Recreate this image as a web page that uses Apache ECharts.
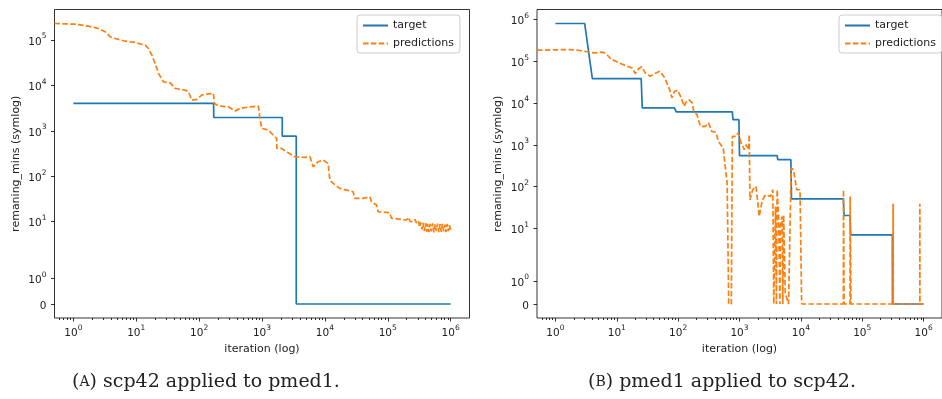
<!DOCTYPE html>
<html>
<head>
<meta charset="UTF-8">
<title>remaining mins</title>
<script src="https://cdn.jsdelivr.net/npm/echarts@6/dist/echarts.min.js"></script>
<style>body{margin:0;background:#fff;}</style>
</head>
<body>
<div id="main" style="width:942px;height:399px;"></div>
<script type="text/javascript">
// [iteration, remaining_mins]
var targetA = [[1, 4000], [170, 4000], [171, 1960], [2100, 1960], [2101, 760], [3506, 760], [3507, 0], [1000000, 0]];
var predA = [[0.5, 228600], [1.08, 220800], [1.75, 199500], [2.52, 177500], [3.22, 149600], [3.87, 116100],
  [4.64, 107100], [6.69, 93300], [9.6, 87500], [13.9, 76300], [15.7, 64500], [17.7, 46000], [20, 30200],
  [22.6, 18200], [27.1, 11900], [34.7, 11300], [41.6, 8530], [60, 7820], [67.6, 7180], [76.6, 4720],
  [91.9, 4890], [110, 6070], [124, 6380], [169, 6620], [175, 3990], [202, 3530], [292, 3360], [373, 2740],
  [447, 3100], [645, 3360], [874, 3480], [929, 1870], [989, 1127], [1259, 1033], [1511, 802], [1710, 679],
  [1720, 409], [2055, 409], [2466, 344], [3342, 267], [4816, 259], [5780, 267], [6520, 161], [7830, 208],
  [9400, 226], [11270, 191], [12000, 82], [13550, 69.7], [17300, 54], [22100, 49.6], [28100, 45.5],
  [29900, 32.6], [40500, 32.6], [51800, 35.3], [55100, 27.4], [66200, 23.2], [70200, 16.6], [107600, 15.7],
  [114500, 11.9], [198000, 10.9], [215000, 12.5], [225000, 10.2], [252000, 10], [270000, 11.2], [290000, 9.0],
  [300000, 8.4], [310000, 10.1], [320000, 7.6], [335000, 9.6], [350000, 6.8], [365000, 9.4], [380000, 6.2],
  [400000, 9.3], [415000, 6.0], [430000, 9.0], [450000, 5.9], [470000, 8.9], [490000, 6.1], [515000, 9.2],
  [540000, 5.8], [565000, 8.7], [590000, 6.2], [620000, 9.1], [650000, 5.9], [680000, 8.8], [710000, 6.0],
  [740000, 9.0], [775000, 6.1], [810000, 8.6], [845000, 5.9], [880000, 8.9], [920000, 6.2], [960000, 8.4],
  [1000000, 6.5]];

var targetB = [[1, 800000], [3, 800000], [4, 38500], [25, 38500], [26, 7640], [87, 7640], [93, 6120],
  [764, 6120], [785, 4000], [978, 4000], [1000, 548], [4100, 548], [4200, 440], [6870, 440], [7030, 51],
  [49300, 51], [50600, 20.3], [63100, 20.3], [64700, 7], [310000, 7], [311000, 0], [1000000, 0]];
var predB = [[0.5, 183700], [1.06, 188000], [1.72, 191000], [2.35, 183700], [3.6, 164500], [4.32, 159000],
  [5.89, 164500], [6.65, 153000], [8.0, 114000], [10.8, 91600], [13.9, 78800], [17.7, 69500], [20, 50800],
  [22.6, 65800], [25.6, 73500], [29, 52700], [34.8, 43700], [41.8, 50800], [50.3, 57700], [60.4, 40000],
  [72.6, 21000], [79, 13300], [87.3, 19100], [98.6, 20200], [112, 13300], [126, 8340], [132, 10100],
  [150, 12100], [169, 10100], [180, 6340], [203, 5270], [230, 2770], [276, 2770], [313, 3340], [353, 2100],
  [414, 1990], [452, 1210], [543, 840], [576, 367], [629, 121], [667, 0], [736, 0], [764, 1590], [885, 1590],
  [942, 1920], [1000, 1590], [1060, 1107], [1200, 764], [1280, 1007], [1410, 764], [1440, 1750], [1480, 48],
  [1640, 84], [1850, 101], [1970, 48], [2090, 19.2], [2360, 48], [2670, 63.7], [3210, 58], [3490, 84],
  [3620, 0], [3860, 33.3], [4000, 0], [4100, 84], [4360, 16], [4550, 0], [4640, 11.1], [4930, 19.2],
  [5080, 0], [5240, 21], [5570, 0.46], [6300, 0], [6950, 278], [7570, 253], [8570, 84], [9680, 84],
  [10300, 0], [49300, 0], [49500, 84], [50600, 0], [63100, 0], [63500, 58], [65500, 0], [317000, 0],
  [318000, 38.7], [319000, 0], [320000, 38.7], [321000, 0], [869000, 0], [870000, 38.7], [871000, 0],
  [1000000, 0]];

var xTicks = [1, 10, 100, 1000, 10000, 100000, 1000000];
var yTicksA = [0, 1, 10, 100, 1000, 10000, 100000];
var yTicksB = [0, 1, 10, 100, 1000, 10000, 100000, 1000000];

// matplotlib symlog, linthresh = 2, linscale = 1, in decades
var LINTHRESH = 2, LINADJ = 1 / (1 - 1 / 10);
function symlog(v) {
  var a = Math.abs(v), s = v < 0 ? -1 : 1;
  if (a <= LINTHRESH) return v * LINADJ / LINTHRESH;
  return s * (LINADJ + Math.log10(a / LINTHRESH));
}
function toXY(arr) {
  return arr.map(function (p) { return [Math.log10(p[0]), symlog(p[1])]; });
}

var minors = [];
for (var d = -1; d <= 6; d++) for (var k = 2; k <= 9; k++) minors.push(Math.log10(k * Math.pow(10, d)));

var xlo = -0.3, xhi = 6.3;
function yRange(a, b) {
  var hi = 0;
  a.concat(b).forEach(function (p) { hi = Math.max(hi, symlog(p[1])); });
  return [-0.05 * hi, 1.05 * hi];
}
var yrA = yRange(targetA, predA), yrB = yRange(targetB, predB);

var sup = {
  b: { fontSize: 10.5, fontFamily: 'DejaVu Sans', color: '#222', padding: [4, 0, 0, 0] },
  s: { fontSize: 7.5, fontFamily: 'DejaVu Sans', color: '#222', verticalAlign: 'top' }
};
function powLabel(e) { return '{b|10}{s|' + e + '}'; }
function yFmt(ticks) {
  return function (val) {
    for (var i = 0; i < ticks.length; i++) {
      if (Math.abs(symlog(ticks[i]) - val) < 1e-6) {
        return ticks[i] === 0 ? '{b|0}' : powLabel(Math.round(Math.log10(ticks[i])));
      }
    }
    return '';
  };
}

var tickStyle = { color: '#000', width: 0.8 };
function xMain(grid) {
  return {
    type: 'value', gridIndex: grid, min: xlo, max: xhi, position: 'bottom',
    name: 'iteration (log)', nameLocation: 'middle', nameGap: 26,
    nameTextStyle: { fontSize: 11, fontFamily: 'DejaVu Sans', color: '#222' },
    axisLine: { show: false, onZero: false }, splitLine: { show: false },
    axisTick: { show: true, inside: false, length: 3.5, lineStyle: tickStyle, customValues: xTicks.map(Math.log10) },
    axisLabel: {
      show: true, margin: 6, customValues: xTicks.map(Math.log10), rich: sup,
      formatter: function (v) { return powLabel(Math.round(v)); }
    }
  };
}
function xMinor(grid) {
  return {
    type: 'value', gridIndex: grid, min: xlo, max: xhi, position: 'bottom',
    axisLine: { show: false, onZero: false }, splitLine: { show: false }, axisLabel: { show: false },
    axisTick: { show: true, inside: false, length: 2, lineStyle: tickStyle, customValues: minors.filter(function (m) { return m > xlo && m < xhi; }) }
  };
}
function yAx(grid, yr, ticks, gap) {
  return {
    type: 'value', gridIndex: grid, min: yr[0], max: yr[1], position: 'left',
    name: 'remaning_mins (symlog)', nameLocation: 'middle', nameGap: gap,
    nameTextStyle: { fontSize: 11, fontFamily: 'DejaVu Sans', color: '#222' },
    axisLine: { show: false, onZero: false }, splitLine: { show: false },
    axisTick: { show: true, inside: false, length: 3.5, lineStyle: tickStyle, customValues: ticks.map(symlog) },
    axisLabel: { show: true, margin: 8, customValues: ticks.map(symlog), rich: sup, formatter: yFmt(ticks) }
  };
}
function line(name, data, xi, yi, color, dash) {
  return {
    type: 'line', name: name, data: toXY(data), xAxisIndex: xi, yAxisIndex: yi,
    showSymbol: false, symbol: 'none', clip: true, animation: false,
    lineStyle: { color: color, width: 1.7, type: dash ? [5.5, 2.4] : 'solid' },
    itemStyle: { color: color }
  };
}
function legend(left) {
  return {
    left: left, top: 15, orient: 'vertical', data: ['target', 'predictions'],
    itemWidth: 25, itemHeight: 10, itemGap: 7, padding: [5, 6, 4, 5],
    itemStyle: { opacity: 0, borderWidth: 0 },
    borderColor: '#cccccc', borderWidth: 1, borderRadius: 3, backgroundColor: 'rgba(255,255,255,0.8)',
    textStyle: { fontSize: 11, fontFamily: 'DejaVu Sans', color: '#222' }
  };
}

var myChart = echarts.init(document.getElementById('main'));
var option = {
  backgroundColor: '#fff',
  animation: false,
  grid: [
    { left: 54.5, top: 9.5, width: 415, height: 308.5, show: true, borderColor: '#000', borderWidth: 0.8, backgroundColor: 'transparent' },
    { left: 537, top: 9.5, width: 413, height: 308.5, show: true, borderColor: '#000', borderWidth: 0.8, backgroundColor: 'transparent' }
  ],
  xAxis: [xMain(0), xMinor(0), xMain(1), xMinor(1)],
  yAxis: [yAx(0, yrA, yTicksA, 33), yAx(1, yrB, yTicksB, 33)],
  legend: [legend(357), legend(839)],
  series: [
    line('target', targetA, 0, 0, '#1f77b4', false),
    line('predictions', predA, 0, 0, '#ff7f0e', true),
    line('target', targetB, 2, 1, '#1f77b4', false),
    line('predictions', predB, 2, 1, '#ff7f0e', true)
  ],
  graphic: [
    { type: 'text', x: 206, y: 382, style: { text: '({sc|A}) scp42 applied to pmed1.', align: 'center', verticalAlign: 'middle',
      fontSize: 19, fontFamily: 'DejaVu Serif', fill: '#222', rich: { sc: { fontSize: 14, fontFamily: 'DejaVu Serif', fill: '#222' } } } },
    { type: 'text', x: 722, y: 382, style: { text: '({sc|B}) pmed1 applied to scp42.', align: 'center', verticalAlign: 'middle',
      fontSize: 19, fontFamily: 'DejaVu Serif', fill: '#222', rich: { sc: { fontSize: 14, fontFamily: 'DejaVu Serif', fill: '#222' } } } }
  ]
};
myChart.setOption(option);
</script>
</body>
</html>
